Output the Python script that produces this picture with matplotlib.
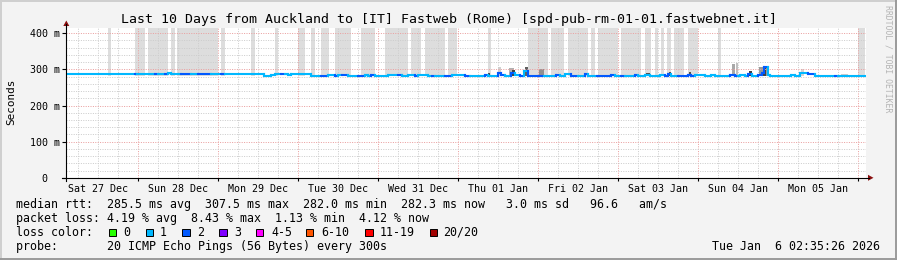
import matplotlib
matplotlib.use("Agg")
import matplotlib.pyplot as plt
from matplotlib.collections import LineCollection
from matplotlib.lines import Line2D
from matplotlib.patches import Polygon, Rectangle

# ---------------- data (hours since Sat 27 Dec 00:00) ----------------
title = "Last 10 Days from Auckland to [IT] Fastweb (Rome) [spd-pub-rm-01-01.fastwebnet.it]"
day_labels = ["Sat 27 Dec", "Sun 28 Dec", "Mon 29 Dec", "Tue 30 Dec", "Wed 31 Dec",
              "Thu 01 Jan", "Fri 02 Jan", "Sat 03 Jan", "Sun 04 Jan", "Mon 05 Jan"]
y_tick_values = [0, 100, 200, 300, 400]
y_tick_labels = ["0  ", "100 m", "200 m", "300 m", "400 m"]
t_start, t_end = 2.58, 242.58

# median rtt step segments: start hour, value (ms), packets lost (of 20)
seg_hours = [2.6, 23.3, 23.9, 29.3, 30.2, 32.3, 33.2, 34.1, 37.1, 40.1, 42.2, 46.1, 49.1,
             50.3, 62.0, 64.1, 65.3, 67.1, 68.3, 69.2, 70.1, 76.1, 79.1, 81.2, 83.3, 84.2,
             85.4, 87.2, 90.2, 92.3, 93.2, 94.1, 95.3, 99.2, 102.2, 103.4, 105.2, 107.3,
             108.2, 111.2, 112.4, 113.3, 116.3, 118.4, 122.3, 123.8, 128.3, 129.2, 130.1,
             132.2, 133.1, 134.3, 136.1, 137.3, 138.8, 140.0, 141.2, 144.2, 146.0, 149.6,
             150.8, 152.3, 154.1, 156.2, 158.3, 159.2, 161.9, 166.1, 167.3, 169.1, 170.3,
             173.3, 174.2, 176.3, 177.8, 180.8, 182.3, 183.2, 184.1, 186.2, 189.2, 190.1,
             191.3, 194.3, 196.1, 197.3, 201.8, 203.3, 204.2, 204.8, 206.3, 207.2, 208.4,
             210.2, 211.4, 212.0, 213.2, 213.8, 220.1, 221.3, 222.8, 225.2, 227.3, 233.3,
             234.2]
seg_end = 242.3
seg_rtt = [287, 287, 287, 287, 287, 287, 289, 287, 287, 287, 287, 287, 287,
           287, 283, 284, 287, 287, 287, 284, 287, 283, 283, 285, 282, 284,
           284.5, 282, 282, 284.5, 282, 284.5, 282, 284.5, 284.5, 282, 284.5, 282,
           284.5, 282, 282, 282, 282, 284.5, 282, 283, 284, 282, 282,
           289, 284, 282, 291, 284, 282, 296, 282, 283, 282, 284,
           282, 288, 282, 283, 287, 282, 282, 284.5, 282, 282, 283,
           284.5, 282, 285, 283, 285, 283, 286, 282, 282, 285, 282,
           285, 283, 285, 283, 285, 282, 283, 285, 282, 286, 282,
           285, 291, 307.5, 284, 282, 284.5, 282, 289, 286, 282, 282,
           282]
seg_loss = [1, 2, 1, 2, 1, 2, 1, 1, 2, 1, 2, 1, 2,
            1, 1, 1, 1, 2, 1, 1, 1, 1, 2, 1, 2, 1,
            2, 1, 2, 1, 1, 2, 1, 1, 2, 1, 1, 2,
            1, 1, 2, 1, 2, 1, 2, 1, 2, 1, 1,
            2, 2, 1, 2, 1, 2, 1, 2, 2, 1, 2,
            1, 1, 2, 1, 2, 1, 2, 2, 1, 2, 1,
            2, 1, 1, 1, 1, 2, 2, 1, 2, 2, 2,
            1, 1, 1, 1, 2, 2, 1, 1, 1, 2, 1,
            2, 2, 2, 1, 1, 1, 1, 1, 2, 1, 2,
            1]

# tall smoke bars (ping spread reaching above the graph)
smoke_bar_start = [15.2, 23.3, 27.2, 34.1, 35.9, 49.1, 58.1, 65.3, 72.1, 76.1, 79.1, 83.3,
                   91.1, 98.3, 106.1, 110.3, 117.1, 129.2, 141.2, 148.1, 153.2, 160.1,
                   162.2, 169.1, 176.3, 179.3, 180.9, 182.9, 185.0, 189.0, 198.0, 240.2]
smoke_bar_end = [16.1, 26.3, 33.2, 35.3, 48.1, 50.3, 59.3, 66.2, 74.3, 77.3, 81.3, 88.1,
                 95.3, 105.1, 109.1, 116.3, 119.8, 130.0, 147.2, 152.0, 159.2, 161.3,
                 168.2, 175.1, 178.1, 180.2, 181.9, 184.1, 188.0, 192.0, 199.1, 242.3]

# small smoke patches near the median
smoke_start = [129.2, 132.2, 135.5, 136.3, 140.2, 144.5, 176.6, 183.3, 189.3, 202.2,
               203.4, 207.3, 210.4, 211.6, 223.0, 235.0]
smoke_end = [129.8, 133.0, 137.0, 137.1, 141.0, 145.8, 177.6, 184.0, 190.0, 203.2,
             204.1, 208.2, 212.8, 212.4, 223.8, 237.0]
smoke_top = [291, 307, 305, 299, 307, 301, 290, 292, 292, 315, 319, 296, 307, 303, 300, 287]
smoke_shade = ["#505050", "#d0d0d0", "#b0b0b0", "#404040", "#606060", "#909090", "#505050",
               "#505050", "#505050", "#a8a8a8", "#c0c0c0", "#404040", "#999999", "#404040",
               "#d4d4d4", "#cccccc"]

loss_labels = ["0", "1", "2", "3", "4-5", "6-10", "11-19", "20/20"]
loss_colors = ["#26ff00", "#00b8ff", "#0059ff", "#7e00ff", "#ff00ff", "#ff5500", "#ff0000", "#a10000"]

stats_rtt = "median rtt:  285.5 ms avg  307.5 ms max  282.0 ms min  282.3 ms now   3.0 ms sd   96.6   am/s"
stats_loss = "packet loss: 4.19 % avg  8.43 % max  1.13 % min  4.12 % now"
probe_text = "probe:       20 ICMP Echo Pings (56 Bytes) every 300s"
stamp_text = "Tue Jan  6 02:35:26 2026"

# ---------------- figure ----------------
W, H = 897, 260
MONO = "DejaVu Sans Mono"
fig = plt.figure(figsize=(W / 100, H / 100), dpi=100, facecolor="#f3f3f3")


def fx(px):
    return px / W


def fy(py):
    return 1 - py / H


x0, x1, ytop, ybot = 66.3, 866.3, 28.0, 177.8
ax = fig.add_axes([fx(x0), fy(ybot), fx(x1) - fx(x0), fy(ytop) - fy(ybot)])
ax.set_facecolor("white")
ax.set_xlim(t_start, t_end)
ax.set_ylim(0, 414.5)
for s in ax.spines.values():
    s.set_visible(False)


def loss_color(n):
    if n <= 0:
        return loss_colors[0]
    if n <= 3:
        return loss_colors[n]
    if n <= 5:
        return loss_colors[4]
    if n <= 10:
        return loss_colors[5]
    if n <= 19:
        return loss_colors[6]
    return loss_colors[7]


# smoke
base = 283
for a, b in zip(smoke_bar_start, smoke_bar_end):
    ax.fill_between([a, b], base, 414.5, color="#dddddd", lw=0, zorder=1)
for a, b, t, c in zip(smoke_start, smoke_end, smoke_top, smoke_shade):
    ax.fill_between([a, b], base, t, color=c, lw=0, zorder=2)

# grid
for h in range(6, 243, 6):
    if t_start < h < t_end:
        major = h % 24 == 0
        ax.axvline(h, color="#eaa0a0" if major else "#cdcdcd", lw=0.72,
                   ls=(0, (1, 1.4)), zorder=3)
for v in range(20, 415, 20):
    major = v % 100 == 0
    ax.axhline(v, color="#eaa0a0" if major else "#cdcdcd", lw=0.72,
               ls=(0, (1, 1.4)), zorder=3)

# median line
ends = seg_hours[1:] + [seg_end]
segs, cols = [], []
for i in range(len(seg_hours)):
    segs.append([(seg_hours[i], seg_rtt[i]), (ends[i], seg_rtt[i])])
    cols.append(loss_color(seg_loss[i]))
    if i + 1 < len(seg_hours):
        segs.append([(ends[i], seg_rtt[i]), (ends[i], seg_rtt[i + 1])])
        cols.append(loss_color(seg_loss[i + 1]))
ax.add_collection(LineCollection(segs, colors=cols, linewidths=1.5,
                                 capstyle="projecting", zorder=5))

# ticks
ax.set_yticks(y_tick_values)
ax.set_yticklabels(y_tick_labels, family=MONO, fontsize=7.2)
ax.tick_params(axis="y", length=3, width=0.8, pad=1.5, color="black")
noons = [12 + 24 * k for k in range(len(day_labels))]
ax.set_xticks(noons)
ax.set_xticklabels(day_labels, family=MONO, fontsize=7.2)
ax.tick_params(axis="x", which="major", length=0, pad=4.5)
ax.set_xticks([24 * k for k in range(1, 11)], minor=True)
ax.tick_params(axis="x", which="minor", length=2.5, width=0.8, color="black")

# axis lines and arrows
fig.add_artist(Line2D([fx(x0), fx(x0)], [fy(181), fy(24)], color="black", lw=0.8))
fig.add_artist(Line2D([fx(62), fx(869)], [fy(ybot), fy(ybot)], color="black", lw=0.8))
fig.add_artist(Polygon([(fx(x0 - 3), fy(26)), (fx(x0 + 3), fy(26)), (fx(x0), fy(20.5))],
                       closed=True, color="#8b1010", lw=0))
fig.add_artist(Polygon([(fx(868), fy(ybot - 3)), (fx(868), fy(ybot + 3)), (fx(873.5), fy(ybot))],
                       closed=True, color="#8b1010", lw=0))

# texts
fig.text(fx(448.5), fy(19.3), title, ha="center", va="center", family=MONO, fontsize=9.5)
fig.text(fx(11), fy(102), "Seconds", rotation=90, ha="center", va="center",
         family=MONO, fontsize=7.9)
fig.text(fx(888), fy(59), "RRDTOOL / TOBI OETIKER", rotation=270, ha="center", va="center",
         family=MONO, fontsize=5.9, color="#b4b4b4")
fs = 8.37
fig.text(fx(16), fy(204.3), stats_rtt, ha="left", va="center", family=MONO, fontsize=fs)
fig.text(fx(16), fy(218.3), stats_loss, ha="left", va="center", family=MONO, fontsize=fs)
fig.text(fx(16), fy(232.3), "loss color:", ha="left", va="center", family=MONO, fontsize=fs)
fig.text(fx(16), fy(246.2), probe_text, ha="left", va="center", family=MONO, fontsize=fs)
fig.text(fx(880), fy(246.2), stamp_text, ha="right", va="center", family=MONO, fontsize=fs)

box_x = [108.7, 145.7, 182.3, 219.3, 256.0, 306.0, 365.3, 430.0]
lab_x = [123, 160, 197, 234, 271, 321, 380, 443]
for bx, lx, lab, col in zip(box_x, lab_x, loss_labels, loss_colors):
    fig.add_artist(Rectangle((fx(bx), fy(236.2)), fx(7.3), 7.3 / H, facecolor=col,
                             edgecolor="black", lw=0.7))
    fig.text(fx(lx), fy(232.3), lab, ha="left", va="center", family=MONO, fontsize=fs)

# frame
fig.add_artist(Line2D([0, 1], [fy(0.8), fy(0.8)], color="#cfcfcf", lw=1.4))
fig.add_artist(Line2D([fx(0.8), fx(0.8)], [0, 1], color="#cfcfcf", lw=1.4))
fig.add_artist(Line2D([0, 1], [fy(259.2), fy(259.2)], color="#9a9a9a", lw=1.4))
fig.add_artist(Line2D([fx(896.2), fx(896.2)], [0, 1], color="#9a9a9a", lw=1.4))

fig.savefig("out.png", dpi=100, facecolor=fig.get_facecolor())
